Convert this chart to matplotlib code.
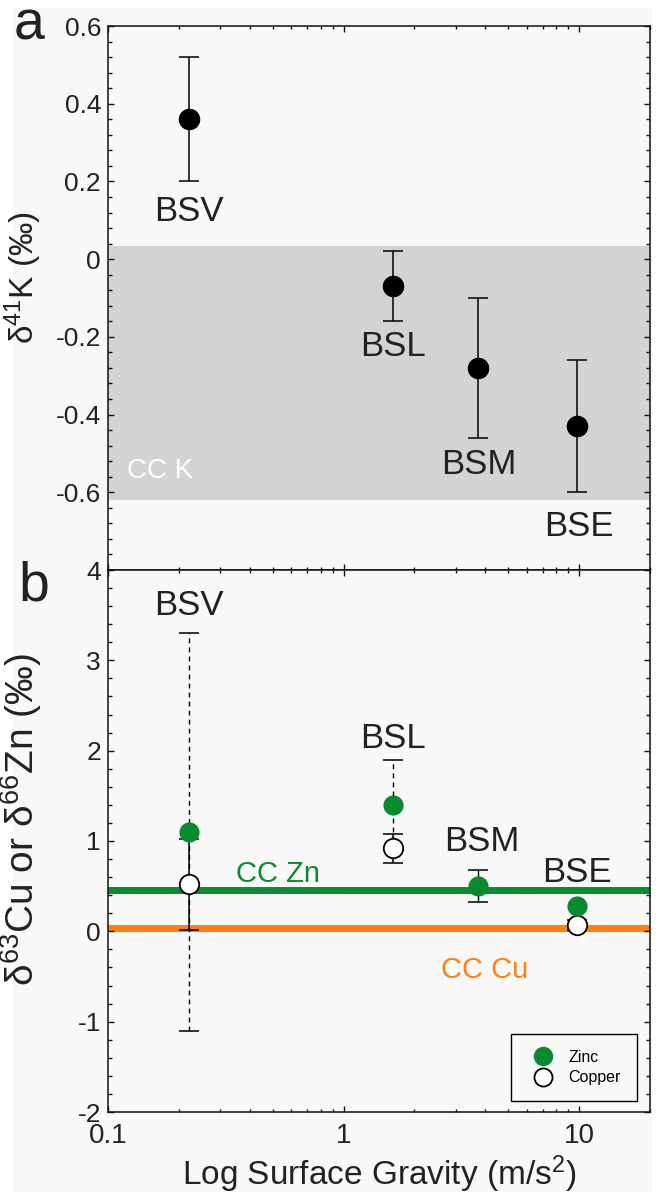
"""Potassium, copper and zinc isotope composition of planetary bodies
plotted against surface gravity (two stacked panels sharing a log x-axis)."""

import matplotlib
matplotlib.use("Agg")
import matplotlib.pyplot as plt
import numpy as np
from matplotlib.lines import Line2D
from matplotlib.patches import Rectangle
from matplotlib.ticker import FixedLocator, LogLocator, MultipleLocator, NullFormatter


# bulk silicate Vesta, Moon, Mars, Earth
BODIES = ["BSV", "BSL", "BSM", "BSE"]
GRAVITY = [0.22, 1.62, 3.71, 9.8]  # m/s^2

# panel a: delta41K (permil) with 2SD
K_DELTA = [0.36, -0.07, -0.28, -0.43]
K_ERR = [0.16, 0.09, 0.18, 0.17]
CC_K_RANGE = (-0.62, 0.035)

# panel b: delta66Zn and delta63Cu (permil)
ZN_DELTA = [1.1, 1.4, 0.5, 0.28]
ZN_ERR = [2.2, 0.5, 0.18, 0.0]
ZN_ERR_DASHED = [True, True, False, False]
CU_DELTA = [0.52, 0.92, np.nan, 0.07]
CU_ERR = [0.5, 0.16, np.nan, 0.06]
CC_ZN = 0.46
CC_CU = 0.04

K_TICKS = [0.6, 0.4, 0.2, 0, -0.2, -0.4, -0.6]
K_TICK_LABELS = ["0.6", "0.4", "0.2", "0", "-0.2", "-0.4", "-0.6"]
CUZN_TICKS = [4, 3, 2, 1, 0, -1, -2]
X_TICKS = [0.1, 1, 10]
X_TICK_LABELS = ["0.1", "1", "10"]

GREEN = "#0a8a2e"
ORANGE = "#ff7f0f"
TEXT = "#222222"
BG = "#f8f8f8"

plt.rcParams.update({
    "font.family": ["Liberation Sans", "DejaVu Sans"],
    "mathtext.default": "regular",
    "axes.unicode_minus": False,
    "axes.linewidth": 1.1,
    "axes.edgecolor": "#111111",
    "xtick.direction": "in",
    "ytick.direction": "in",
    "xtick.top": True,
    "ytick.right": True,
    "xtick.major.size": 4.5,
    "xtick.minor.size": 2.5,
    "ytick.major.size": 4.5,
    "ytick.minor.size": 3.0,
    "xtick.major.width": 1.0,
    "xtick.minor.width": 1.0,
    "ytick.major.width": 1.0,
    "ytick.minor.width": 1.0,
    "xtick.color": "#111111",
    "ytick.color": "#111111",
    "xtick.labelcolor": TEXT,
    "ytick.labelcolor": TEXT,
})

fig = plt.figure(figsize=(6.6, 11.95), dpi=100, facecolor="white")
fig.patches.append(Rectangle((13 / 660, 3 / 1195), 639 / 660, 1184 / 1195,
                             transform=fig.transFigure, facecolor=BG,
                             edgecolor="none", zorder=-10))

left, width = 108 / 660, 542 / 660
ax_a = fig.add_axes([left, 1 - 570 / 1195, width, 544 / 1195])
ax_b = fig.add_axes([left, 1 - 1112 / 1195, width, 542 / 1195])

for ax in (ax_a, ax_b):
    ax.set_facecolor(BG)
    ax.set_xscale("log")
    ax.set_xlim(0.1, 20)
    ax.xaxis.set_major_locator(FixedLocator(X_TICKS))
    ax.xaxis.set_minor_locator(LogLocator(base=10, subs=np.arange(2, 10)))
    ax.xaxis.set_minor_formatter(NullFormatter())
    ax.tick_params(axis="y", which="major", labelsize=19, pad=5)
    ax.tick_params(axis="x", which="major", labelsize=20, pad=8)

# ---- panel a: potassium ----
ax_a.axhspan(*CC_K_RANGE, color="#d3d3d3", lw=0, zorder=0)
ax_a.errorbar(GRAVITY, K_DELTA, yerr=K_ERR, fmt="o", color="black",
              ms=14.5, elinewidth=1.1, capsize=7, capthick=1.1, zorder=3)
ax_a.set_ylim(-0.8, 0.6)
ax_a.yaxis.set_major_locator(FixedLocator(K_TICKS))
ax_a.set_yticklabels(K_TICK_LABELS)
ax_a.yaxis.set_minor_locator(MultipleLocator(0.04))
ax_a.tick_params(axis="x", labelbottom=False)
ax_a.set_ylabel("δ$^{41}$K (‰)", fontsize=24, color=TEXT)
ax_a.yaxis.set_label_coords(-0.118, 0.537)

label_pos_a = [(0.22, 0.123), (1.62, -0.226), (3.75, -0.528), (10.0, -0.687)]
for name, (x, y) in zip(BODIES, label_pos_a):
    ax_a.text(x, y, name, fontsize=25, color=TEXT, ha="center", va="center")
ax_a.text(0.121, -0.544, "CC K", fontsize=20, color="white", ha="left", va="center")
ax_a.text(-0.175, 1.0, "a", transform=ax_a.transAxes, fontsize=40,
          color=TEXT, ha="left", va="center")

# ---- panel b: copper and zinc ----
ax_b.axhline(CC_ZN, color=GREEN, lw=5, zorder=1)
ax_b.axhline(CC_CU, color=ORANGE, lw=5, zorder=1)

for x, y, e, dashed in zip(GRAVITY, ZN_DELTA, ZN_ERR, ZN_ERR_DASHED):
    if e > 0:
        _, caps, bars = ax_b.errorbar(x, y, yerr=e, fmt="none", ecolor="black",
                                      elinewidth=1.0, capsize=7, capthick=1.1,
                                      zorder=2)
        if dashed:
            bars[0].set_linestyle((0, (3.5, 3)))

ax_b.errorbar(GRAVITY, CU_DELTA, yerr=CU_ERR, fmt="none", ecolor="black",
              elinewidth=1.1, capsize=7, capthick=1.1, zorder=3)
ax_b.plot(GRAVITY, CU_DELTA, "o", mfc="white", mec="black", mew=1.3,
          ms=14, zorder=5)
ax_b.plot(GRAVITY, ZN_DELTA, "o", color=GREEN, ms=14.5, mec="none", zorder=6)

ax_b.set_ylim(-2, 4)
ax_b.yaxis.set_major_locator(FixedLocator(CUZN_TICKS))
ax_b.set_yticklabels([str(t) for t in CUZN_TICKS])
ax_b.yaxis.set_minor_locator(MultipleLocator(0.2))
ax_b.set_xticklabels(X_TICK_LABELS)
ax_b.set_ylabel("δ$^{63}$Cu or δ$^{66}$Zn (‰)", fontsize=28, color=TEXT)
ax_b.yaxis.set_label_coords(-0.118, 0.539)
ax_b.set_xlabel("Log Surface Gravity (m/s$^{2}$)", fontsize=24, color=TEXT,
                labelpad=3)

label_pos_b = [(0.22, 3.61), (1.62, 2.14), (3.85, 0.99), (9.8, 0.65)]
for name, (x, y) in zip(BODIES, label_pos_b):
    ax_b.text(x, y, name, fontsize=25, color=TEXT, ha="center", va="center")
ax_b.text(0.35, 0.64, "CC Zn", fontsize=21, color=GREEN, ha="left", va="center")
ax_b.text(2.59, -0.43, "CC Cu", fontsize=21, color=ORANGE, ha="left", va="center")
ax_b.text(-0.165, 0.97, "b", transform=ax_b.transAxes, fontsize=40,
          color=TEXT, ha="left", va="center")

handles = [
    Line2D([], [], ls="none", marker="o", ms=14, mfc=GREEN, mec="none"),
    Line2D([], [], ls="none", marker="o", ms=13, mfc="white", mec="black", mew=1.3),
]
leg = ax_b.legend(handles, ["Zinc", "Copper"], loc="lower right", fontsize=11.5,
                  frameon=True, fancybox=False, edgecolor="black",
                  facecolor=BG, framealpha=1, borderpad=1.0,
                  handletextpad=0.6, labelspacing=0.35, borderaxespad=0.5,
                  bbox_to_anchor=(0.99, 0.005))
leg.get_frame().set_linewidth(1.0)

fig.savefig("out.png", dpi=100, facecolor=fig.get_facecolor())
